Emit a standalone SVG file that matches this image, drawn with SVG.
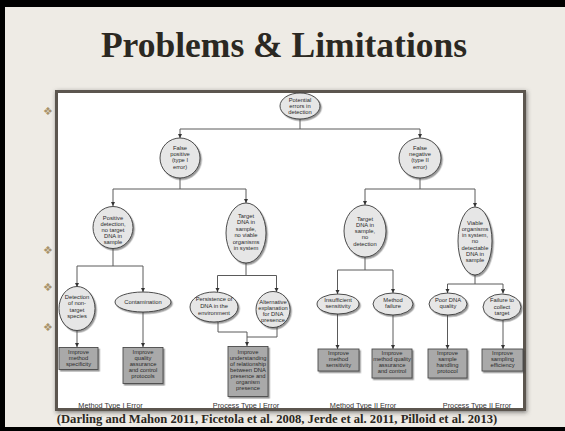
<svg xmlns="http://www.w3.org/2000/svg" width="565" height="431" viewBox="0 0 565 431">
<defs>
<filter id="sh" x="-20%" y="-20%" width="150%" height="150%">
<feDropShadow dx="1.4" dy="1.6" stdDeviation="0.7" flood-color="#444" flood-opacity="0.55"/>
</filter>
<filter id="psh" x="-5%" y="-5%" width="110%" height="110%">
<feDropShadow dx="1" dy="1.5" stdDeviation="2" flood-color="#333" flood-opacity="0.6"/>
</filter>
<marker id="ar" viewBox="0 0 6 6" refX="6" refY="3" markerWidth="4.2" markerHeight="4.6" markerUnits="userSpaceOnUse" orient="auto">
<path d="M0,0 L6,3 L0,6 z" fill="#333"/>
</marker>
<style>
.el{fill:#e6e6e6;stroke:#3a3a3a;stroke-width:0.9;filter:url(#sh)}
.bx{fill:#a9a9a9;stroke:#4a4a4a;stroke-width:0.9;filter:url(#sh)}
.t{font-family:"Liberation Sans",Arial,sans-serif;font-size:5.8px;fill:#2a2a2a;text-anchor:middle}
.lb{font-family:"Liberation Sans",Arial,sans-serif;font-size:7.3px;fill:#333;text-anchor:middle}
.c{fill:none;stroke:#5a5a5a;stroke-width:1}
.ca{fill:none;stroke:#5a5a5a;stroke-width:1;marker-end:url(#ar)}
.bul{font-family:"DejaVu Sans",sans-serif;font-size:11px;fill:#a8926a;text-anchor:middle}
</style>
</defs>
<rect x="0" y="0" width="565" height="431" fill="#000"/>
<rect x="5" y="7" width="560" height="420" fill="#eeebe5"/>
<text x="284" y="57" font-family="'Liberation Serif','Times New Roman',serif" font-size="35.5" font-weight="bold" fill="#2b2822" text-anchor="middle">Problems &amp; Limitations</text>
<g id="bullets">
<text class="bul" x="48" y="115">❖</text>
<text class="bul" x="48" y="254">❖</text>
<text class="bul" x="48" y="291">❖</text>
<text class="bul" x="48" y="331">❖</text>
</g>
<rect x="56.5" y="91.5" width="468" height="318" fill="#fff" stroke="#5b5650" stroke-width="3" filter="url(#psh)"/>
<g id="connectors">
<path class="c" d="M300,119 V129"/>
<path class="ca" d="M300,129 H180 V138"/>
<path class="ca" d="M300,129 H420 V138"/>
<path class="c" d="M180,178 V189"/>
<path class="ca" d="M180,189 H113 V206"/>
<path class="ca" d="M180,189 H246 V203"/>
<path class="c" d="M420,178 V189"/>
<path class="ca" d="M420,189 H365 V205"/>
<path class="ca" d="M420,189 H475 V207"/>
<path class="c" d="M113,248 V266"/>
<path class="ca" d="M113,266 H77 V287"/>
<path class="ca" d="M113,266 H143 V292"/>
<path class="c" d="M246,263 V275.5"/>
<path class="ca" d="M246,275.5 H217.5 V292"/>
<path class="ca" d="M246,275.5 H276.5 V292"/>
<path class="c" d="M365,257 V270"/>
<path class="ca" d="M365,270 H337.5 V294"/>
<path class="ca" d="M365,270 H393 V293"/>
<path class="c" d="M475,275 V284"/>
<path class="ca" d="M475,284 H447.5 V293"/>
<path class="ca" d="M475,284 H503 V293.5"/>
<path class="ca" d="M77,330 V347"/>
<path class="ca" d="M143,312 V347"/>
<path class="c" d="M218,322 V332 H247"/>
<path class="c" d="M277,327 V337 H247"/>
<path class="ca" d="M247,332 V346"/>
<path class="ca" d="M337.5,314 V349"/>
<path class="ca" d="M393,315 V349"/>
<path class="ca" d="M447.5,315 V349"/>
<path class="ca" d="M503,320 V349"/>
</g>
<g id="n-root"><ellipse class="el" cx="300" cy="106" rx="20" ry="13"/>
<text class="t" x="300" y="101.5">Potential</text><text class="t" x="300" y="107.9">errors in</text><text class="t" x="300" y="114.3">detection</text></g>
<g id="n-fp"><ellipse class="el" cx="180" cy="158" rx="20" ry="20"/>
<text class="t" x="180" y="149.6">False</text><text class="t" x="180" y="156">positive</text><text class="t" x="180" y="162.4">(type I</text><text class="t" x="180" y="168.8">error)</text></g>
<g id="n-fn"><ellipse class="el" cx="420" cy="158" rx="21" ry="20"/>
<text class="t" x="420" y="149.6">False</text><text class="t" x="420" y="156">negative</text><text class="t" x="420" y="162.4">(type II</text><text class="t" x="420" y="168.8">error)</text></g>
<g id="n-pd"><ellipse class="el" cx="113" cy="227.5" rx="20" ry="21"/>
<text class="t" x="113" y="219.5">Positive</text><text class="t" x="113" y="225.6">detection,</text><text class="t" x="113" y="231.7">no target</text><text class="t" x="113" y="237.8">DNA in</text><text class="t" x="113" y="243.9">sample</text></g>
<g id="n-td1"><ellipse class="el" cx="246" cy="233" rx="20" ry="30"/>
<text class="t" x="246" y="217.5">Target</text><text class="t" x="246" y="224">DNA in</text><text class="t" x="246" y="230.5">sample,</text><text class="t" x="246" y="237">no viable</text><text class="t" x="246" y="243.5">organisms</text><text class="t" x="246" y="250">in system</text></g>
<g id="n-td2"><ellipse class="el" cx="365" cy="231" rx="21" ry="26"/>
<text class="t" x="365" y="220.5">Target</text><text class="t" x="365" y="226.8">DNA in</text><text class="t" x="365" y="233.1">sample,</text><text class="t" x="365" y="239.4">no</text><text class="t" x="365" y="245.7">detection</text></g>
<g id="n-v"><ellipse class="el" cx="475" cy="241" rx="17" ry="34"/>
<text class="t" x="475" y="224.7">Viable</text><text class="t" x="475" y="230.9">organisms</text><text class="t" x="475" y="237.1">in system,</text><text class="t" x="475" y="243.3">no</text><text class="t" x="475" y="249.5">detectable</text><text class="t" x="475" y="255.7">DNA in</text><text class="t" x="475" y="261.9">sample</text></g>
<g id="n-dnt"><ellipse class="el" cx="77" cy="308.5" rx="18" ry="22"/>
<text class="t" x="77" y="298.8">Detection</text><text class="t" x="77" y="305.2">of non-</text><text class="t" x="77" y="311.6">target</text><text class="t" x="77" y="318">species</text></g>
<g id="n-con"><ellipse class="el" cx="143" cy="302" rx="28" ry="10"/>
<text class="t" x="143" y="304.1">Contamination</text></g>
<g id="n-per"><ellipse class="el" cx="214" cy="307" rx="24" ry="15"/>
<text class="t" x="214" y="301.4">Persistence of</text><text class="t" x="214" y="308">DNA in the</text><text class="t" x="214" y="314.6">environment</text></g>
<g id="n-alt"><ellipse class="el" cx="273" cy="309.5" rx="17" ry="18"/>
<text class="t" x="273" y="303.6">Alternative</text><text class="t" x="273" y="309.7">explanation</text><text class="t" x="273" y="315.8">for DNA</text><text class="t" x="273" y="321.9">presence</text></g>
<g id="n-ins"><ellipse class="el" cx="338" cy="304" rx="21" ry="10"/>
<text class="t" x="338" y="302">Insufficient</text><text class="t" x="338" y="308.2">sensitivity</text></g>
<g id="n-mf"><ellipse class="el" cx="393" cy="304" rx="20" ry="11"/>
<text class="t" x="393" y="302">Method</text><text class="t" x="393" y="308.2">failure</text></g>
<g id="n-poor"><ellipse class="el" cx="448" cy="304" rx="19" ry="11"/>
<text class="t" x="448" y="302">Poor DNA</text><text class="t" x="448" y="308.2">quality</text></g>
<g id="n-fail"><ellipse class="el" cx="502" cy="307" rx="19" ry="13"/>
<text class="t" x="502" y="302.3">Failure to</text><text class="t" x="502" y="308.6">collect</text><text class="t" x="502" y="314.9">target</text></g>
<g id="b-spec"><rect class="bx" x="59" y="347.5" width="39" height="22"/>
<text class="t" x="78.5" y="353.8">Improve</text><text class="t" x="78.5" y="359.9">method</text><text class="t" x="78.5" y="366">specificity</text></g>
<g id="b-qa"><rect class="bx" x="123" y="347.5" width="40" height="36"/>
<text class="t" x="143" y="353.8">Improve</text><text class="t" x="143" y="359.9">quality</text><text class="t" x="143" y="366">assurance</text><text class="t" x="143" y="372.1">and control</text><text class="t" x="143" y="378.2">protocols</text></g>
<g id="b-und"><rect class="bx" x="228" y="346.5" width="40" height="50"/>
<text class="t" x="248" y="353.8">Improve</text><text class="t" x="248" y="359.9">understanding</text><text class="t" x="248" y="366">of relationship</text><text class="t" x="248" y="372.1">between DNA</text><text class="t" x="248" y="378.2">presence and</text><text class="t" x="248" y="384.3">organism</text><text class="t" x="248" y="390.4">presence</text></g>
<g id="b-sens"><rect class="bx" x="318" y="349" width="41" height="22"/>
<text class="t" x="338.5" y="354.8">Improve</text><text class="t" x="338.5" y="360.9">method</text><text class="t" x="338.5" y="367">sensitivity</text></g>
<g id="b-mqa"><rect class="bx" x="372" y="349" width="40" height="29"/>
<text class="t" x="392" y="354.8">Improve</text><text class="t" x="392" y="360.9">method quality</text><text class="t" x="392" y="367">assurance</text><text class="t" x="392" y="373.1">and control</text></g>
<g id="b-hand"><rect class="bx" x="428" y="349" width="39" height="29"/>
<text class="t" x="447.5" y="354.8">Improve</text><text class="t" x="447.5" y="360.9">sample</text><text class="t" x="447.5" y="367">handling</text><text class="t" x="447.5" y="373.1">protocol</text></g>
<g id="b-samp"><rect class="bx" x="482" y="349" width="41" height="22"/>
<text class="t" x="502.5" y="354.8">Improve</text><text class="t" x="502.5" y="360.9">sampling</text><text class="t" x="502.5" y="367">efficiency</text></g>
<g id="labels">
<text class="lb" x="110.5" y="407.5">Method Type I Error</text>
<text class="lb" x="246" y="407.5">Process Type I Error</text>
<text class="lb" x="363" y="407.5">Method Type II Error</text>
<text class="lb" x="477" y="407.5">Process Type II Error</text>
</g>
<text x="277" y="423" font-family="'Liberation Serif','Times New Roman',serif" font-size="12.6" font-weight="bold" fill="#2b2822" text-anchor="middle">(Darling and Mahon 2011, Ficetola et al. 2008, Jerde et al. 2011, Pilloid et al. 2013)</text>
</svg>
